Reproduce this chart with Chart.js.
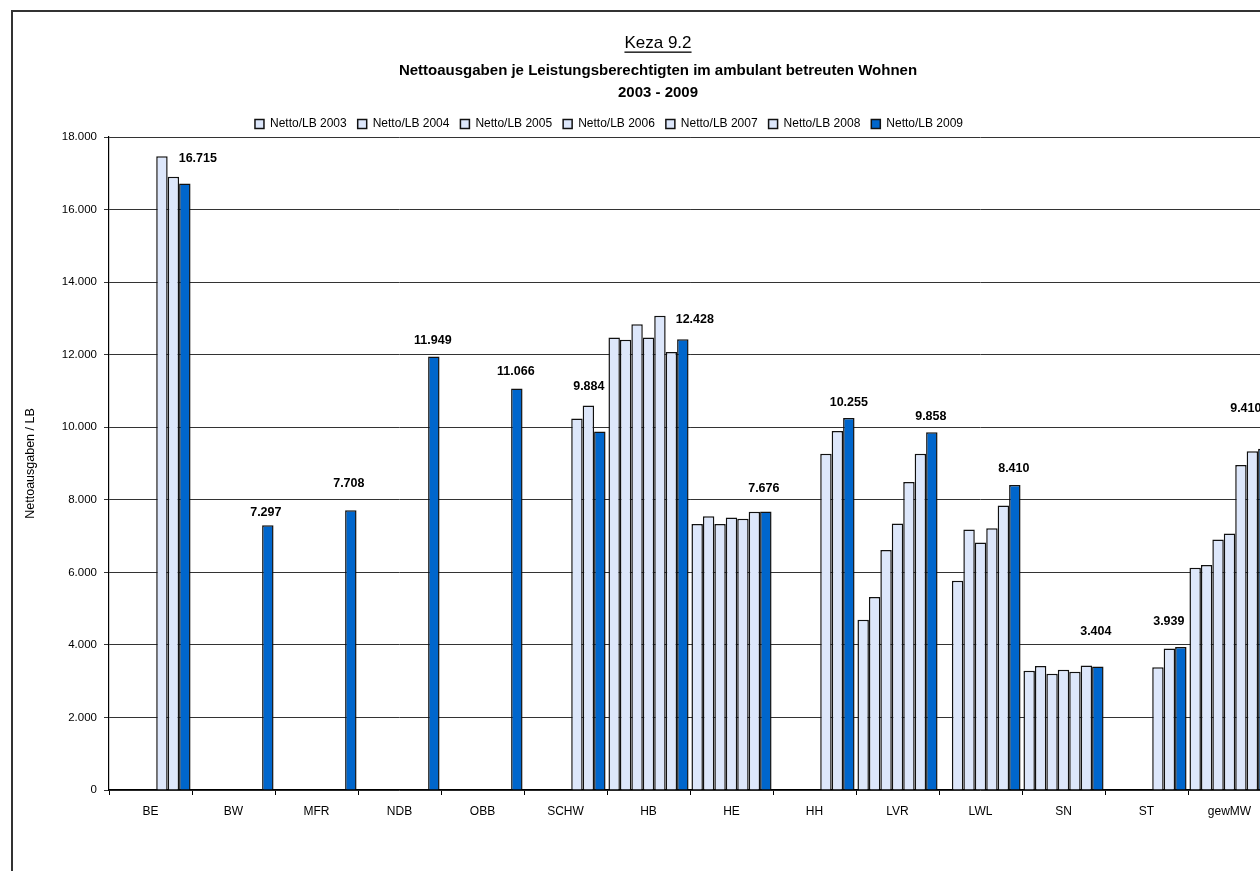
<!DOCTYPE html>
<html>
<head>
<meta charset="utf-8">
<title>Keza 9.2</title>
<script src="https://cdn.jsdelivr.net/npm/chart.js@4.4.1/dist/chart.umd.min.js"></script>
<style>
  html, body { margin: 0; padding: 0; background: #fff; overflow: hidden; }
  #wrap { position: relative; width: 1260px; height: 871px; overflow: hidden; }
  #frame { position: absolute; left: 11px; top: 10px; width: 1400px; height: 1000px;
           border-left: 2px solid #333; border-top: 2px solid #333; }
  /* canvas is shifted left so the legend sits where the sheet had it */
  #box { position: absolute; left: -53px; top: 0; width: 1340px; height: 871px; }
</style>
</head>
<body>
<div id="wrap">
  <div id="frame"></div>
  <div id="box"><canvas id="chart"></canvas></div>
</div>
<script>
// Nettoausgaben je Leistungsberechtigten (Euro), ambulant betreutes Wohnen
const regions = ['BE', 'BW', 'MFR', 'NDB', 'OBB', 'SCHW', 'HB', 'HE', 'HH', 'LVR', 'LWL', 'SN', 'ST', 'gewMW'];
const years = ['2003', '2004', '2005', '2006', '2007', '2008', '2009'];

const netto2003 = [null, null, null, null, null, null, 12476, 7333, null, 4691, null, 3290, null, 6129];
const netto2004 = [null, null, null, null, null, null, 12410, 7543, null, 5318, 5770, 3419, null, 6203];
const netto2005 = [null, null, null, null, null, null, 12838, 7333, null, 6618, 7180, 3207, null, 6903];
const netto2006 = [null, null, null, null, null, null, 12476, 7514, null, 7346, 6820, 3318, null, 7069];
const netto2007 = [17471, null, null, null, null, 10238, 13076, 7476, 9272, 8488, 7217, 3263, 3382, 8959];
const netto2008 = [16901, null, null, null, null, 10600, 12076, 7667, 9899, 9272, 7843, 3429, 3899, 9336];
const netto2009 = [16715, 7297, 7708, 11949, 11066, 9884, 12428, 7676, 10255, 9858, 8410, 3404, 3939, 9410];

const yTicks = [0, 2000, 4000, 6000, 8000, 10000, 12000, 14000, 16000, 18000];

// where each 2009 value label sits relative to the top of its bar (px)
const labelShift = [[13, -25], [-2, -13], [-2, -27], [-1, -16], [-1, -17], [-11, -45], [12, -20],
                    [-2, -23], [0, -15], [-1, -16], [-1, -16], [-2, -35], [-12, -26], [-18, -40]];

const FONT = '"Liberation Sans", Arial, sans-serif';
const LIGHT = '#dde7fb';
const BLUE = '#0066cc';

function fmt(v) {
    return String(Math.round(v)).replace(/\B(?=(\d{3})+(?!\d))/g, '.');
}

const series = [netto2003, netto2004, netto2005, netto2006, netto2007, netto2008, netto2009];

const datasets = series.map((data, i) => ({
    label: 'Netto/LB ' + years[i],
    data: data,
    backgroundColor: i === 6 ? BLUE : LIGHT,
    borderColor: '#111',
    borderWidth: 1.5,
    borderSkipped: 'bottom',
    categoryPercentage: 0.965,
    barPercentage: 1.0
}));

// headline block above the legend
const header = {
    id: 'header',
    afterDraw(chart) {
        const ctx = chart.ctx;
        const cx = 711;
        ctx.save();
        ctx.fillStyle = '#000';
        ctx.textAlign = 'center';
        ctx.textBaseline = 'middle';
        ctx.font = '17px ' + FONT;
        ctx.fillText('Keza 9.2', cx, 43);
        const w = ctx.measureText('Keza 9.2').width;
        ctx.fillRect(cx - w / 2, 51.5, w, 1.3);
        ctx.font = 'bold 15px ' + FONT;
        ctx.fillText('Nettoausgaben je Leistungsberechtigten im ambulant betreuten Wohnen', cx, 71);
        ctx.fillText('2003 - 2009', cx, 93);
        ctx.restore();
    }
};

// value labels on the 2009 bars
const valueLabels = {
    id: 'valueLabels',
    afterDatasetsDraw(chart) {
        const meta = chart.getDatasetMeta(6);
        const ctx = chart.ctx;
        ctx.save();
        ctx.font = 'bold 12.5px ' + FONT;
        ctx.fillStyle = '#000';
        ctx.textAlign = 'center';
        ctx.textBaseline = 'middle';
        meta.data.forEach((bar, i) => {
            const v = netto2009[i];
            if (v == null) return;
            const [dx, dy] = labelShift[i];
            ctx.fillText(fmt(v), bar.x + dx, bar.y + dy);
        });
        ctx.restore();
    }
};

new Chart(document.getElementById('chart'), {
    type: 'bar',
    data: { labels: regions, datasets: datasets },
    plugins: [header, valueLabels],
    options: {
        responsive: true,
        maintainAspectRatio: false,
        animation: false,
        layout: { padding: { top: 107, left: 0, right: 16, bottom: 0 } },
        plugins: {
            title: { display: false },
            tooltip: { enabled: false },
            legend: {
                display: true,
                position: 'top',
                maxHeight: 30,
                labels: {
                    color: '#000',
                    boxWidth: 9,
                    boxHeight: 9,
                    padding: 11,
                    font: { family: FONT, size: 12 }
                }
            }
        },
        scales: {
            x: {
                offset: true,
                grid: { drawOnChartArea: false, drawTicks: true, tickLength: 5, color: '#000', offset: true },
                border: { color: '#000', width: 1.2 },
                ticks: { color: '#000', padding: 9, font: { family: FONT, size: 12 } },
                afterFit(scale) { scale.height = 81; }
            },
            y: {
                min: 0,
                max: 18000,
                afterBuildTicks(scale) { scale.ticks = yTicks.map(v => ({ value: v })); },
                grid: { color: '#333', lineWidth: 1, tickLength: 5 },
                border: { color: '#000', width: 1.2 },
                ticks: {
                    color: '#000',
                    padding: 7,
                    font: { family: FONT, size: 11.5 },
                    callback: function(value) { return fmt(value); }
                },
                title: {
                    display: true,
                    text: 'Nettoausgaben / LB',
                    color: '#000',
                    font: { family: FONT, size: 12.5 },
                    padding: { top: 76, bottom: 0 }
                },
                afterFit(scale) { scale.width = 162; }
            }
        }
    }
});
</script>
</body>
</html>
